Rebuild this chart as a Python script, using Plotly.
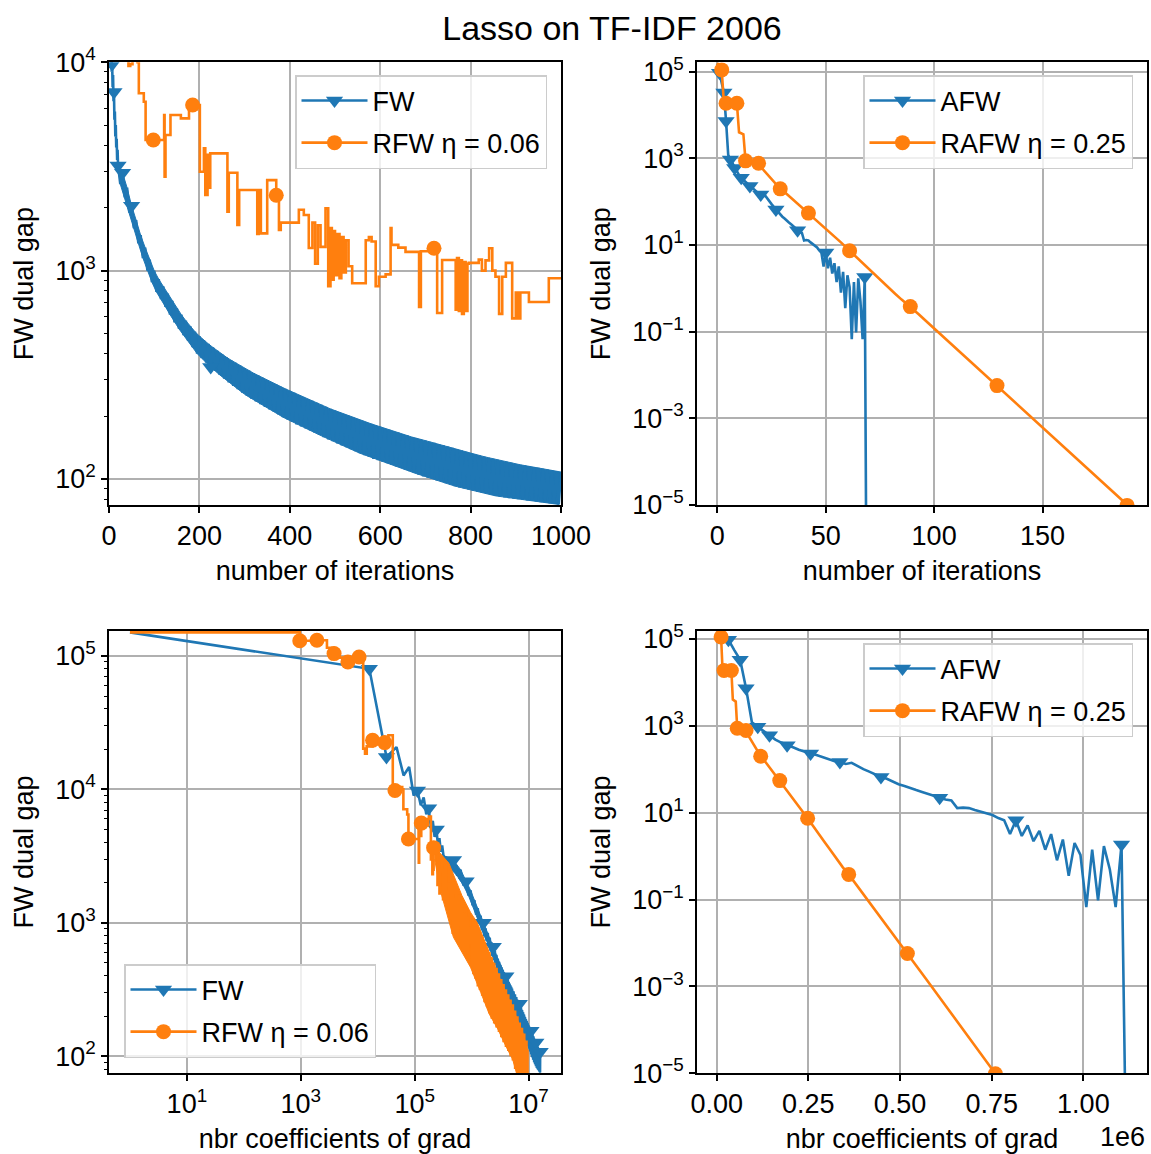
import plotly.graph_objects as go

# ---------------------------------------------------------------- data
# coefficients of the gradient computed per iteration
FW_COEFS_PER_ITER = 16000
RFW_COEFS_PER_ITER = 960
AFW_COEFS_PER_ITER = 16000
RAFW_COEFS_PER_ITER = 4000

# FW (plain Frank-Wolfe) dual gap: iterations 0..20, then an oscillating
# sequence (low values at 25,35,...,995 ; high values at 30,40,...,1000)
FW_EARLY_GAP = [150000, 80000, 17500, 20700, 12700, 14700, 9000, 9800, 7600,
                8700, 6500, 7200, 5300, 5800, 4400, 5000, 3900, 4300, 3400,
                3800, 3200]
FW_LO_GAP = [2600, 2250, 1900, 1600, 1350, 1150, 1000, 880,
             790, 730, 670, 615, 565, 525, 490, 460, 430, 400,
             380, 362, 345, 330, 316, 303, 291, 280, 270, 260,
             251, 243, 236, 229, 222, 216, 210, 204, 198, 193,
             188, 183, 179, 175, 171, 167, 163, 159, 155, 152,
             148, 145, 142, 139, 136, 133, 130, 128, 125, 123,
             121, 119, 117, 115, 113, 111, 109, 107, 105, 103,
             101.5, 100, 98.5, 97, 95.5, 94, 92.5, 91, 90, 89,
             88, 87, 86, 85, 84, 83, 82, 81.5, 81, 80.5,
             80, 79.5, 79, 78.5, 78, 77.5, 77, 76.5, 76, 75.5]
FW_HI_GAP = [2950, 2500, 2050, 1750, 1480, 1290, 1130, 1000,
             910, 840, 775, 715, 660, 615, 575, 540, 510, 485,
             463, 445, 428, 412, 397, 384, 372, 361, 350, 340,
             331, 322, 314, 306, 298, 291, 284, 277, 271, 265,
             259, 253, 247, 242, 237, 232, 227, 222, 217, 213,
             209, 205, 201, 197, 194, 190, 187, 184, 181, 178,
             175, 172, 169, 167, 164, 162, 159, 157, 155, 153,
             151, 149, 147, 145, 143, 141, 139, 137, 135, 133,
             131, 129.5, 128, 126.5, 125, 123.5, 122, 121, 119.5, 118,
             117, 116, 115, 114, 113, 112, 111, 110, 109, 108]

# RFW eta=0.06: iteration at which the dual-gap estimate changes, and its value
RFW_ITER = [0, 1, 2, 3, 4, 5, 6, 7, 8, 9, 10, 11, 12, 13, 14, 15, 19, 25, 31,
            36, 43, 47, 52, 63, 66, 77, 81, 98, 122, 123, 125, 136, 159, 177,
            185, 201, 210, 213, 218, 221, 224, 262, 265, 284, 288, 328, 331,
            336, 350, 370, 376, 380, 420, 431, 442, 450, 456, 462, 468, 479,
            485, 490, 493, 497, 500, 505, 510, 514, 519, 524, 530, 538, 568,
            575, 581, 590, 597, 612, 623, 625, 640, 656, 686, 690, 719, 726,
            737, 767, 770, 774, 778, 781, 785, 789, 793, 796, 818, 825, 833,
            841, 848, 855, 863, 870, 878, 892, 900, 905, 910, 929, 973,
            1040, 1080, 1120, 1170, 1220, 1280, 1340, 1400, 1460, 1530, 1600,
            1680, 1760, 1850, 1940, 2040, 2140, 2250, 2360, 2480, 2600, 2730,
            2860, 3000, 3150, 3300, 3460, 3630, 3800, 3990, 4180, 4380, 4590,
            4810, 5040, 5280, 5530, 5790, 6060, 6350, 6650, 6960, 7290, 7630,
            7990, 8370, 8760, 9170, 9600, 10000]
RFW_GAP = [150000, 130000, 131000, 115000, 104000, 97000, 93000, 90000, 92000,
           95000, 97000, 98000, 97000, 20200, 18500, 21000, 23300, 22500, 22400,
           25400, 9600, 9800, 10400, 10000, 7100, 6470, 4240, 4240, 5585, 2825,
           4478, 5585, 5380, 6000, 6240, 2985, 3870, 2310, 3600, 2500, 3656,
           1918, 2950, 1656, 2439, 1500, 2439, 1510, 2720, 2300, 1570, 1700,
           1960, 1850, 1285, 1700, 1080, 1650, 1300, 1990, 842, 1600, 905,
           1550, 950, 1500, 920, 1450, 980, 1400, 1050, 870, 1400, 1450, 1380,
           842, 935, 960, 1600, 1330, 1290, 1230, 670, 1240, 1280, 626, 1125,
           650, 1150, 640, 1120, 620, 1100, 640, 1080, 1090, 1130, 1000, 1120,
           1280, 1000, 935, 620, 935, 1090, 590, 785, 590, 785, 707, 920,
           480, 1050, 420, 980, 390, 920, 340, 850, 320, 770, 290,
           700, 260, 640, 240, 590, 215, 540, 195, 490, 180, 450,
           168, 410, 155, 370, 142, 340, 130, 310, 120, 285, 112,
           260, 102, 240, 95, 215, 82, 195, 74, 175, 68, 160,
           63, 145, 58, 128, 54, 112]

# spread of the RFW dual gap against coefficients (upper / lower edge of the band)
RFW_BAND_UP_COEF = [2.24e5, 3.98e5, 6.76e5, 9.55e5, 1.26e6, 1.86e6, 3.24e6, 5.5e6, 7.94e6, 9.6e6]
RFW_BAND_UP_GAP = [3700, 2800, 1600, 1200, 1000, 656, 369, 220, 150, 112]
RFW_BAND_LO_COEF = [2.24e5, 2.82e5, 4.79e5, 9.55e5, 1.45e6, 2.04e6, 2.88e6, 4.07e6,
                    5.25e6, 6.17e6, 7.94e6, 9.6e6]
RFW_BAND_LO_GAP = [3000, 1750, 780, 465, 300, 207, 160, 117, 95, 74, 60, 54]

# AFW dual gap, iterations 0..69
AFW_GAP = [150000, 95000, 55000, 33000, 7300, 1200, 944, 760, 603, 480,
           410, 355, 320, 280, 250, 229, 212, 190, 170, 155,
           147, 132, 140, 118, 100, 88, 76, 66, 60, 52,
           45, 41, 36, 33, 30, 27, 24.5, 22, 20, 19,
           12.7, 13, 12.7, 11.5, 10.5, 9.6, 8.8, 7.5, 6.7, 3.2,
           6.7, 2.9, 5.1, 2.2, 3.8, 1.4, 3.2, 0.8, 2.4, 0.35,
           2.0, 1.06, 0.067, 1.4, 0.096, 1.7, 0.5, 0.067, 1.84, 1e-9]

# RAFW eta=0.25 dual gap
RAFW_ITER = [0, 1, 2, 3, 4, 6, 8, 9, 10, 11, 12, 13, 15, 17, 19, 21, 23, 25,
             27, 29, 32, 35, 38, 42, 45, 48, 51, 54, 57, 61, 64, 67, 70, 73,
             76, 79, 82, 85, 89, 93, 97, 101, 105, 109, 113, 117, 121, 125,
             129, 133, 137, 141, 145, 149, 153, 157, 161, 165, 169, 173, 177,
             181, 185, 187, 189]
RAFW_GAP = [160000, 135000, 110000, 19000, 18700, 18000, 18500, 18700, 4000,
            3800, 3600, 875, 840, 800, 774, 560, 430, 330, 255, 198, 150, 110,
            82, 54.6, 40, 30, 21.5, 16, 11.5, 7.4, 5.3, 3.9, 2.8, 2.0, 1.45,
            1.05, 0.75, 0.55, 0.379, 0.25, 0.163, 0.107, 0.070, 0.046, 0.030,
            0.020, 0.013, 0.0086, 0.0057, 0.0038, 0.00245, 0.0016, 0.00105,
            0.00069, 0.00045, 0.00030, 0.000195, 0.000128, 0.000084, 0.000055,
            0.000036, 0.000024, 0.0000155, 0.0000125, 0.0000098]

# iterations carrying a marker in each panel
FW_MARK_P1 = [7, 11, 20, 30, 50, 225]
RFW_MARK_P1 = [98, 185, 370, 719]
AFW_MARK = [1, 3, 4, 6, 8, 11, 15, 20, 27, 37, 50, 68]
RAFW_MARK = [2, 4, 9, 13, 19, 29, 42, 61, 89, 129, 189]
FW_MARK_P3 = [1, 2, 7, 11, 15, 30, 50, 100, 150, 250, 430, 690, 840, 1000]
RFW_MARK_P3 = [1, 2, 4, 7, 11, 19, 31, 47, 81, 136, 224]

LABEL_FW = "FW"
LABEL_RFW = "RFW η = 0.06"
LABEL_AFW = "AFW"
LABEL_RAFW = "RAFW η = 0.25"

# ---------------------------------------------------------------- series
fw_iter = list(range(len(FW_EARLY_GAP)))
fw_gap = list(FW_EARLY_GAP)
fw_hi_iter, fw_lo_iter = [20], [20]
for k, (lo, hi) in enumerate(zip(FW_LO_GAP, FW_HI_GAP)):
    fw_iter += [25 + 10 * k, 30 + 10 * k]
    fw_gap += [lo, hi]
    fw_lo_iter.append(25 + 10 * k)
    fw_hi_iter.append(30 + 10 * k)
fw_hi_gap = [FW_EARLY_GAP[-1]] + FW_HI_GAP
fw_lo_gap = [FW_EARLY_GAP[-1]] + FW_LO_GAP
fw_lookup = dict(zip(fw_iter, fw_gap))


def fw_coef(iters):
    return [1 + FW_COEFS_PER_ITER * i for i in iters]


rfw_coef = [1 + RFW_COEFS_PER_ITER * i for i in RFW_ITER]


def step_value(iters, vals, it):
    v = vals[0]
    for i, g in zip(iters, vals):
        if i <= it:
            v = g
        else:
            break
    return v


afw_iter = list(range(len(AFW_GAP)))
afw_coef = [AFW_COEFS_PER_ITER * (i + 1) for i in afw_iter]
rafw_coef = [RAFW_COEFS_PER_ITER * (i + 1) for i in RAFW_ITER]
rafw_lookup = dict(zip(RAFW_ITER, RAFW_GAP))

BLUE = "#1f77b4"
ORANGE = "#ff7f0e"
LW = 2.6
TRI = 15
CIRC = 15
FONT = "Liberation Sans, Arial, sans-serif"

fig = go.Figure()


def band(xu, yu, xl, yl, color, xa, ya):
    fig.add_trace(go.Scatter(x=list(xu) + list(xl)[::-1], y=list(yu) + list(yl)[::-1],
                             mode="lines", fill="toself", fillcolor=color,
                             line=dict(color=color, width=1), showlegend=False,
                             xaxis=xa, yaxis=ya, hoverinfo="skip"))


def line(x, y, color, xa, ya, shape="linear"):
    fig.add_trace(go.Scatter(x=x, y=y, mode="lines", showlegend=False,
                             line=dict(color=color, width=LW, shape=shape),
                             xaxis=xa, yaxis=ya, hoverinfo="skip"))


def marks(x, y, color, symbol, size, xa, ya):
    fig.add_trace(go.Scatter(x=x, y=y, mode="markers", showlegend=False,
                             marker=dict(color=color, symbol=symbol, size=size),
                             xaxis=xa, yaxis=ya, hoverinfo="skip"))


def legend_entry(name, color, symbol, size, legend, xa, ya):
    fig.add_trace(go.Scatter(x=[None], y=[None], mode="lines+markers",
                             name=name, legend=legend, legendgroup=name + legend,
                             line=dict(color=color, width=LW),
                             marker=dict(color=color, symbol=symbol, size=size),
                             xaxis=xa, yaxis=ya))


# panel 1 : gap vs iterations (FW / RFW)
band(fw_hi_iter, fw_hi_gap, fw_lo_iter, fw_lo_gap, BLUE, "x", "y")
line(fw_iter, fw_gap, BLUE, "x", "y")
marks(FW_MARK_P1, [fw_lookup[i] for i in FW_MARK_P1], BLUE, "triangle-down", TRI, "x", "y")
line(RFW_ITER, RFW_GAP, ORANGE, "x", "y", shape="hv")
marks(RFW_MARK_P1, [step_value(RFW_ITER, RFW_GAP, i) for i in RFW_MARK_P1],
      ORANGE, "circle", CIRC, "x", "y")
legend_entry(LABEL_FW, BLUE, "triangle-down", TRI, "legend", "x", "y")
legend_entry(LABEL_RFW, ORANGE, "circle", CIRC, "legend", "x", "y")

# panel 2 : gap vs iterations (AFW / RAFW)
line(afw_iter, AFW_GAP, BLUE, "x2", "y2")
marks(AFW_MARK, [AFW_GAP[i] for i in AFW_MARK], BLUE, "triangle-down", TRI, "x2", "y2")
line(RAFW_ITER, RAFW_GAP, ORANGE, "x2", "y2")
marks(RAFW_MARK, [rafw_lookup[i] for i in RAFW_MARK], ORANGE, "circle", CIRC, "x2", "y2")
legend_entry(LABEL_AFW, BLUE, "triangle-down", TRI, "legend2", "x2", "y2")
legend_entry(LABEL_RAFW, ORANGE, "circle", CIRC, "legend2", "x2", "y2")

# panel 3 : gap vs coefficients (FW / RFW), log-log
band(fw_coef(fw_hi_iter), fw_hi_gap, fw_coef(fw_lo_iter), fw_lo_gap, BLUE, "x3", "y3")
line(fw_coef(fw_iter), fw_gap, BLUE, "x3", "y3")
marks(fw_coef(FW_MARK_P3), [fw_lookup[i] for i in FW_MARK_P3],
      BLUE, "triangle-down", TRI, "x3", "y3")
band(RFW_BAND_UP_COEF, RFW_BAND_UP_GAP, RFW_BAND_LO_COEF, RFW_BAND_LO_GAP, ORANGE, "x3", "y3")
line(rfw_coef, RFW_GAP, ORANGE, "x3", "y3", shape="hv")
marks([1 + RFW_COEFS_PER_ITER * i for i in RFW_MARK_P3],
      [step_value(RFW_ITER, RFW_GAP, i) for i in RFW_MARK_P3],
      ORANGE, "circle", CIRC, "x3", "y3")
legend_entry(LABEL_FW, BLUE, "triangle-down", TRI, "legend3", "x3", "y3")
legend_entry(LABEL_RFW, ORANGE, "circle", CIRC, "legend3", "x3", "y3")

# panel 4 : gap vs coefficients (AFW / RAFW)
line(afw_coef, AFW_GAP, BLUE, "x4", "y4")
marks([AFW_COEFS_PER_ITER * (i + 1) for i in AFW_MARK], [AFW_GAP[i] for i in AFW_MARK],
      BLUE, "triangle-down", TRI, "x4", "y4")
line(rafw_coef, RAFW_GAP, ORANGE, "x4", "y4")
marks([RAFW_COEFS_PER_ITER * (i + 1) for i in RAFW_MARK], [rafw_lookup[i] for i in RAFW_MARK],
      ORANGE, "circle", CIRC, "x4", "y4")
legend_entry(LABEL_AFW, BLUE, "triangle-down", TRI, "legend4", "x4", "y4")
legend_entry(LABEL_RAFW, ORANGE, "circle", CIRC, "legend4", "x4", "y4")

# ---------------------------------------------------------------- layout
W, H = 1151, 1154
TICK = 27
LAB = 27


def px_x(p):
    return p / W


def px_y(p):
    return 1 - p / H


def sup(e):
    s = str(e).replace("-", "\u2212")
    return "10<sup>%s</sup>" % s


def base_axis(**kw):
    d = dict(showline=True, linecolor="black", linewidth=1.5, mirror=True,
             ticks="outside", ticklen=6, tickwidth=1.5, tickcolor="black",
             showgrid=True, gridcolor="#b0b0b0", gridwidth=1.5, zeroline=False,
             automargin=False,
             tickfont=dict(size=TICK, color="black", family=FONT),
             title_font=dict(size=LAB, color="black", family=FONT))
    d.update(kw)
    return d


XL = [px_x(109), px_x(561)]
XR = [px_x(697), px_x(1147)]
YT = [px_y(505), px_y(62.3)]
YB = [px_y(1073.3), px_y(630.8)]

minor1 = [80, 90] + [k * 100 for k in range(2, 10)] + [k * 1000 for k in range(2, 10)]
minor3 = minor1 + [k * 10000 for k in range(2, 10)]
odd_exp = [-5, -3, -1, 1, 3, 5]
minor_style = dict(tickmode="array", ticks="outside", ticklen=3.5, tickwidth=1.2,
                   tickcolor="black", showgrid=False)
XT = dict(standoff=11)
YTT = dict(standoff=14)

fig.update_layout(
    width=W, height=H, margin=dict(l=0, r=0, t=0, b=0, autoexpand=False),
    paper_bgcolor="white", plot_bgcolor="white",
    font=dict(family=FONT, color="black"),
    title=dict(text="Lasso on TF-IDF 2006", x=px_x(612), y=px_y(28),
               xanchor="center", yanchor="middle", automargin=False,
               font=dict(size=34, family=FONT, color="black")),
    xaxis=base_axis(domain=XL, anchor="y", range=[0, 1000],
                    tickvals=[0, 200, 400, 600, 800, 1000],
                    title=dict(text="number of iterations", **XT)),
    yaxis=base_axis(domain=YT, anchor="x", type="log", range=[1.8752, 4.0],
                    tickvals=[100, 1000, 10000], ticktext=[sup(2), sup(3), sup(4)],
                    minor=dict(tickvals=minor1, **minor_style),
                    title=dict(text="FW dual gap", **YTT)),
    xaxis2=base_axis(domain=XR, anchor="y2", range=[-9.4, 198.2],
                     tickvals=[0, 50, 100, 150],
                     title=dict(text="number of iterations", **XT)),
    yaxis2=base_axis(domain=YT, anchor="x2", type="log", range=[-5, 5.217],
                     tickvals=[10.0 ** e for e in odd_exp],
                     ticktext=[sup(e) for e in odd_exp],
                     title=dict(text="FW dual gap", **YTT)),
    xaxis3=base_axis(domain=XL, anchor="y3", type="log", range=[-0.368, 7.57],
                     tickvals=[10, 1e3, 1e5, 1e7], ticktext=[sup(1), sup(3), sup(5), sup(7)],
                     title=dict(text="nbr coefficients of grad", **XT)),
    yaxis3=base_axis(domain=YB, anchor="x3", type="log", range=[1.872, 5.188],
                     tickvals=[100, 1000, 10000, 100000],
                     ticktext=[sup(2), sup(3), sup(4), sup(5)],
                     minor=dict(tickvals=minor3, **minor_style),
                     title=dict(text="FW dual gap", **YTT)),
    xaxis4=base_axis(domain=XR, anchor="y4", range=[-53700, 1173500],
                     tickvals=[0, 250000, 500000, 750000, 1000000],
                     ticktext=["0.00", "0.25", "0.50", "0.75", "1.00"],
                     title=dict(text="nbr coefficients of grad", **XT)),
    yaxis4=base_axis(domain=YB, anchor="x4", type="log", range=[-5, 5.185],
                     tickvals=[10.0 ** e for e in odd_exp],
                     ticktext=[sup(e) for e in odd_exp],
                     title=dict(text="FW dual gap", **YTT)),
)

leg_style = dict(bgcolor="rgba(255,255,255,0.8)", bordercolor="#cccccc",
                 borderwidth=1.5, font=dict(size=27, family=FONT, color="black"),
                 itemwidth=66, yanchor="top", traceorder="grouped", tracegroupgap=4)
fig.update_layout(
    legend=dict(x=px_x(547), y=px_y(75), xanchor="right", **leg_style),
    legend2=dict(x=px_x(1133), y=px_y(75), xanchor="right", **leg_style),
    legend3=dict(x=px_x(124), y=px_y(964), xanchor="left", **leg_style),
    legend4=dict(x=px_x(1133), y=px_y(643), xanchor="right", **leg_style),
)

fig.add_annotation(text="1e6", x=px_x(1147), y=px_y(1137), xref="paper", yref="paper",
                   xanchor="right", yanchor="middle", showarrow=False,
                   font=dict(size=TICK, family=FONT, color="black"))

fig.write_html("out.html", config={"displayModeBar": False},
               post_script="document.body.style.margin='0px';document.body.style.padding='0px';")
